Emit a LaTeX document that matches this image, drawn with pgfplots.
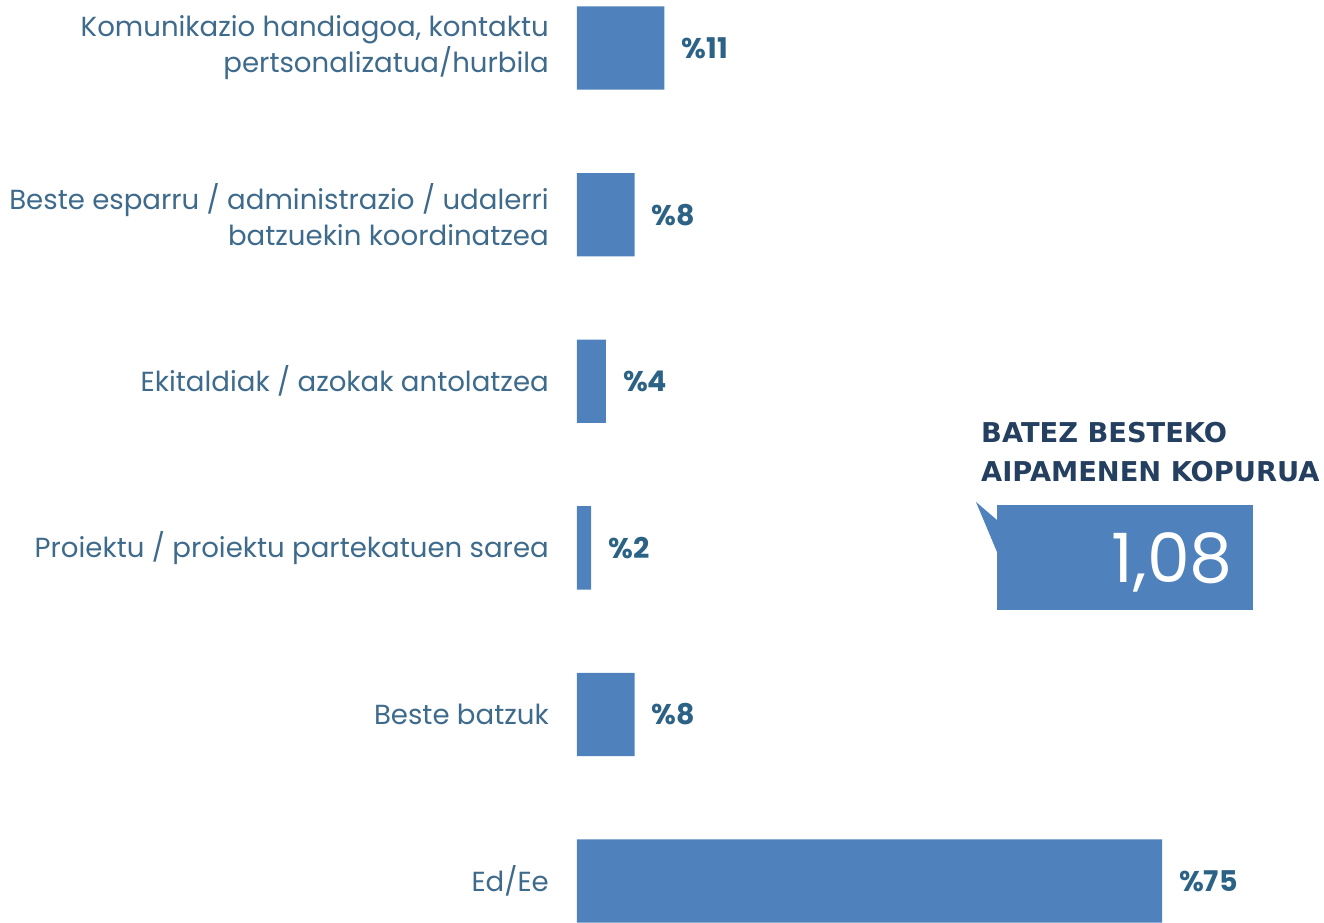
\documentclass[border=0pt]{standalone}
\usepackage{pgfplots}
\pgfplotsset{compat=1.18}
\usepackage{pgfplotstable}
\usepackage{fontspec}
\setmainfont{Poppins}
\newfontfamily\titlefont{DejaVu Sans}
\definecolor{barblue}{HTML}{4F81BD}
\definecolor{labblue}{HTML}{3E6A8C}
\definecolor{valblue}{HTML}{2C6285}
\definecolor{navy}{HTML}{243F60}

\pgfplotstableread{
y x lab
0 11.2 11
1 7.4 8
2 3.7 4
3 1.8 2
4 7.4 8
5 75 75
}\data

\begin{document}
\begin{tikzpicture}[x=1pt,y=1pt]
\begin{scope}[shift={(-577pt,922.7pt)}, yscale=-1]
\useasboundingbox (0,0) rectangle (1324,920);
\end{scope}
\begin{axis}[scale only axis,
  width=741pt, height=916.3pt,
  xmin=0, xmax=95, ymin=-0.25, ymax=5.25, y dir=reverse,
  xbar, bar width=0.5,
  axis line style={draw=none}, xtick=\empty, ytick={0,1,2,3,4,5},
  major tick length=0pt,
  yticklabels={{Komunikazio handiagoa, kontaktu\\pertsonalizatua/hurbila},
    {Beste esparru / administrazio / udalerri\\batzuekin koordinatzea},
    {Ekitaldiak / azokak antolatzea},
    {Proiektu / proiektu partekatuen sarea},
    {Beste batzuk},
    {Ed/Ee}},
  yticklabel style={align=right, inner sep=0pt, xshift=-28pt,
    font=\fontsize{27.6}{36}\selectfont, text=labblue},
  point meta=explicit symbolic,
  nodes near coords={\%\pgfplotspointmeta},
  every node near coord/.append style={anchor=west, inner sep=0pt, xshift=17pt,
    font=\fontsize{28.5}{30}\selectfont\bfseries, text=valblue},
]
\addplot[fill=barblue, draw=none] table[x=x, y=y, meta=lab]{\data};
\end{axis}
\begin{scope}[shift={(-577pt,922.7pt)}, yscale=-1]
\fill[barblue] (997,505) rectangle (1253,610);
\fill[barblue] (976,502) -- (997,520) -- (997,552) -- cycle;
\node[anchor=base east, inner sep=0pt, text=white, font=\fontsize{68}{68}\selectfont] at (1233,583) {1,08};
\node[anchor=base west, inner sep=0pt, text=navy, font=\titlefont\bfseries\fontsize{27.3}{27.3}\selectfont] at (981,443) {BATEZ BESTEKO};
\node[anchor=base west, inner sep=0pt, text=navy, font=\titlefont\bfseries\fontsize{27.3}{27.3}\selectfont] at (981,482) {AIPAMENEN KOPURUA};
\end{scope}
\end{tikzpicture}
\end{document}
